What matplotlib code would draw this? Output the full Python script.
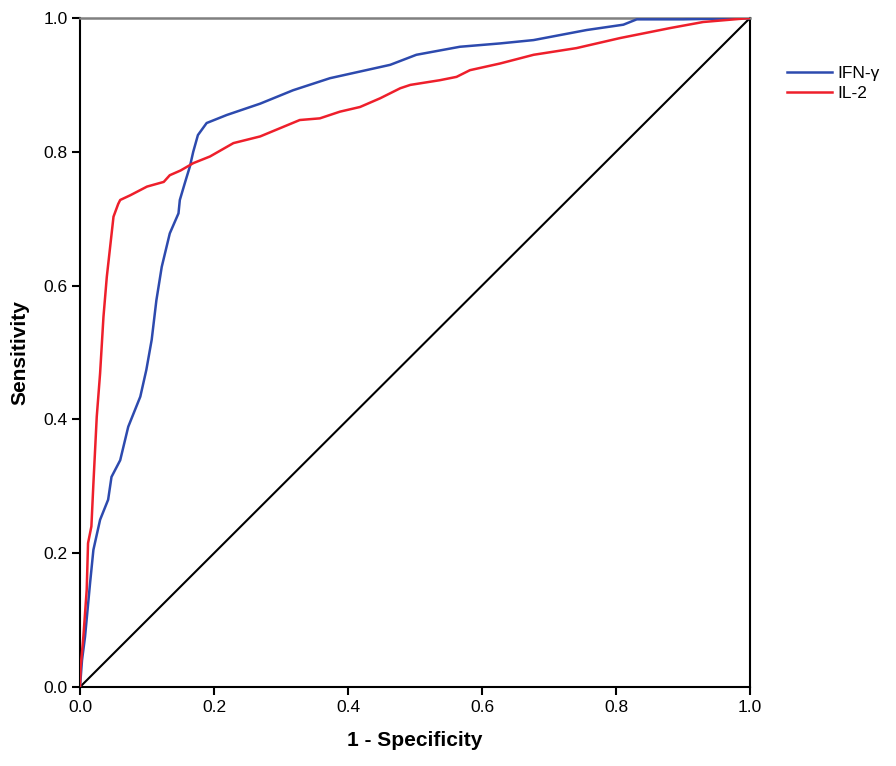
import matplotlib
matplotlib.use("Agg")
import matplotlib.pyplot as plt

plt.rcParams['font.family'] = ['Liberation Sans', 'DejaVu Sans']

# ROC curve points (1 - specificity, sensitivity)
ifn_x = [0.0, 0.003, 0.0075, 0.015, 0.02, 0.03, 0.042, 0.047, 0.060, 0.072, 0.090, 0.099,
         0.107, 0.114, 0.122, 0.134, 0.147, 0.149, 0.157, 0.164, 0.169, 0.176, 0.189,
         0.219, 0.269, 0.318, 0.373, 0.418, 0.463, 0.502, 0.567, 0.627, 0.677, 0.756,
         0.811, 0.831, 0.9, 1.0]
ifn_y = [0.0, 0.04, 0.075, 0.155, 0.205, 0.25, 0.28, 0.314, 0.339, 0.389, 0.434, 0.474,
         0.519, 0.578, 0.628, 0.678, 0.708, 0.728, 0.755, 0.778, 0.80, 0.825, 0.843,
         0.855, 0.872, 0.892, 0.91, 0.92, 0.93, 0.945, 0.957, 0.962, 0.967, 0.982,
         0.99, 0.998, 0.998, 1.0]

il2_x = [0.0, 0.001, 0.005, 0.010, 0.012, 0.017, 0.020, 0.025, 0.030, 0.035, 0.040,
         0.050, 0.057, 0.060, 0.075, 0.100, 0.125, 0.134, 0.150, 0.169, 0.194, 0.229,
         0.269, 0.328, 0.358, 0.388, 0.418, 0.448, 0.478, 0.493, 0.537, 0.562, 0.582,
         0.627, 0.677, 0.741, 0.806, 0.881, 0.93, 1.0]
il2_y = [0.0, 0.03, 0.075, 0.145, 0.215, 0.24, 0.304, 0.404, 0.469, 0.553, 0.613,
         0.703, 0.722, 0.728, 0.735, 0.748, 0.755, 0.765, 0.772, 0.783, 0.793, 0.813,
         0.823, 0.8475, 0.85, 0.86, 0.867, 0.88, 0.895, 0.90, 0.907, 0.912, 0.922,
         0.932, 0.945, 0.955, 0.97, 0.985, 0.994, 1.0]

ref_x = [0.0, 1.0]
ref_y = [0.0, 1.0]

ticks = [0.0, 0.2, 0.4, 0.6, 0.8, 1.0]
tick_labels = ["0.0", "0.2", "0.4", "0.6", "0.8", "1.0"]

fig = plt.figure(figsize=(8.96, 7.66), dpi=100)
ax = fig.add_axes([80/896, 79/766, 670/896, 669/766])

ax.plot(ifn_x, ifn_y, color='#2d4aae', lw=1.8, label='IFN-γ', zorder=3)
ax.plot(il2_x, il2_y, color='#ee1f2b', lw=1.8, label='IL-2', zorder=3)
ax.plot(ref_x, ref_y, color='black', lw=1.5, zorder=2)

ax.set_xlim(0, 1)
ax.set_ylim(0, 1)
ax.set_xticks(ticks)
ax.set_xticklabels(tick_labels)
ax.set_yticks(ticks)
ax.set_yticklabels(tick_labels)
ax.tick_params(direction='out', length=6, width=1.5, labelsize=12.5, pad=3, color='black')

for s in ['left', 'bottom', 'right']:
    ax.spines[s].set_color('black')
    ax.spines[s].set_linewidth(1.5)
ax.spines['top'].set_color('#808080')
ax.spines['top'].set_linewidth(1.8)

ax.set_xlabel('1 - Specificity', fontsize=15, fontweight='bold', labelpad=12)
ax.set_ylabel('Sensitivity', fontsize=15, fontweight='bold', labelpad=10)

leg = ax.legend(loc='upper left', bbox_to_anchor=(1.045, 0.939), frameon=False,
                fontsize=12.5, handlelength=2.6, handletextpad=0.3, labelspacing=0.28,
                borderaxespad=0)

fig.savefig('out.png', dpi=100)
